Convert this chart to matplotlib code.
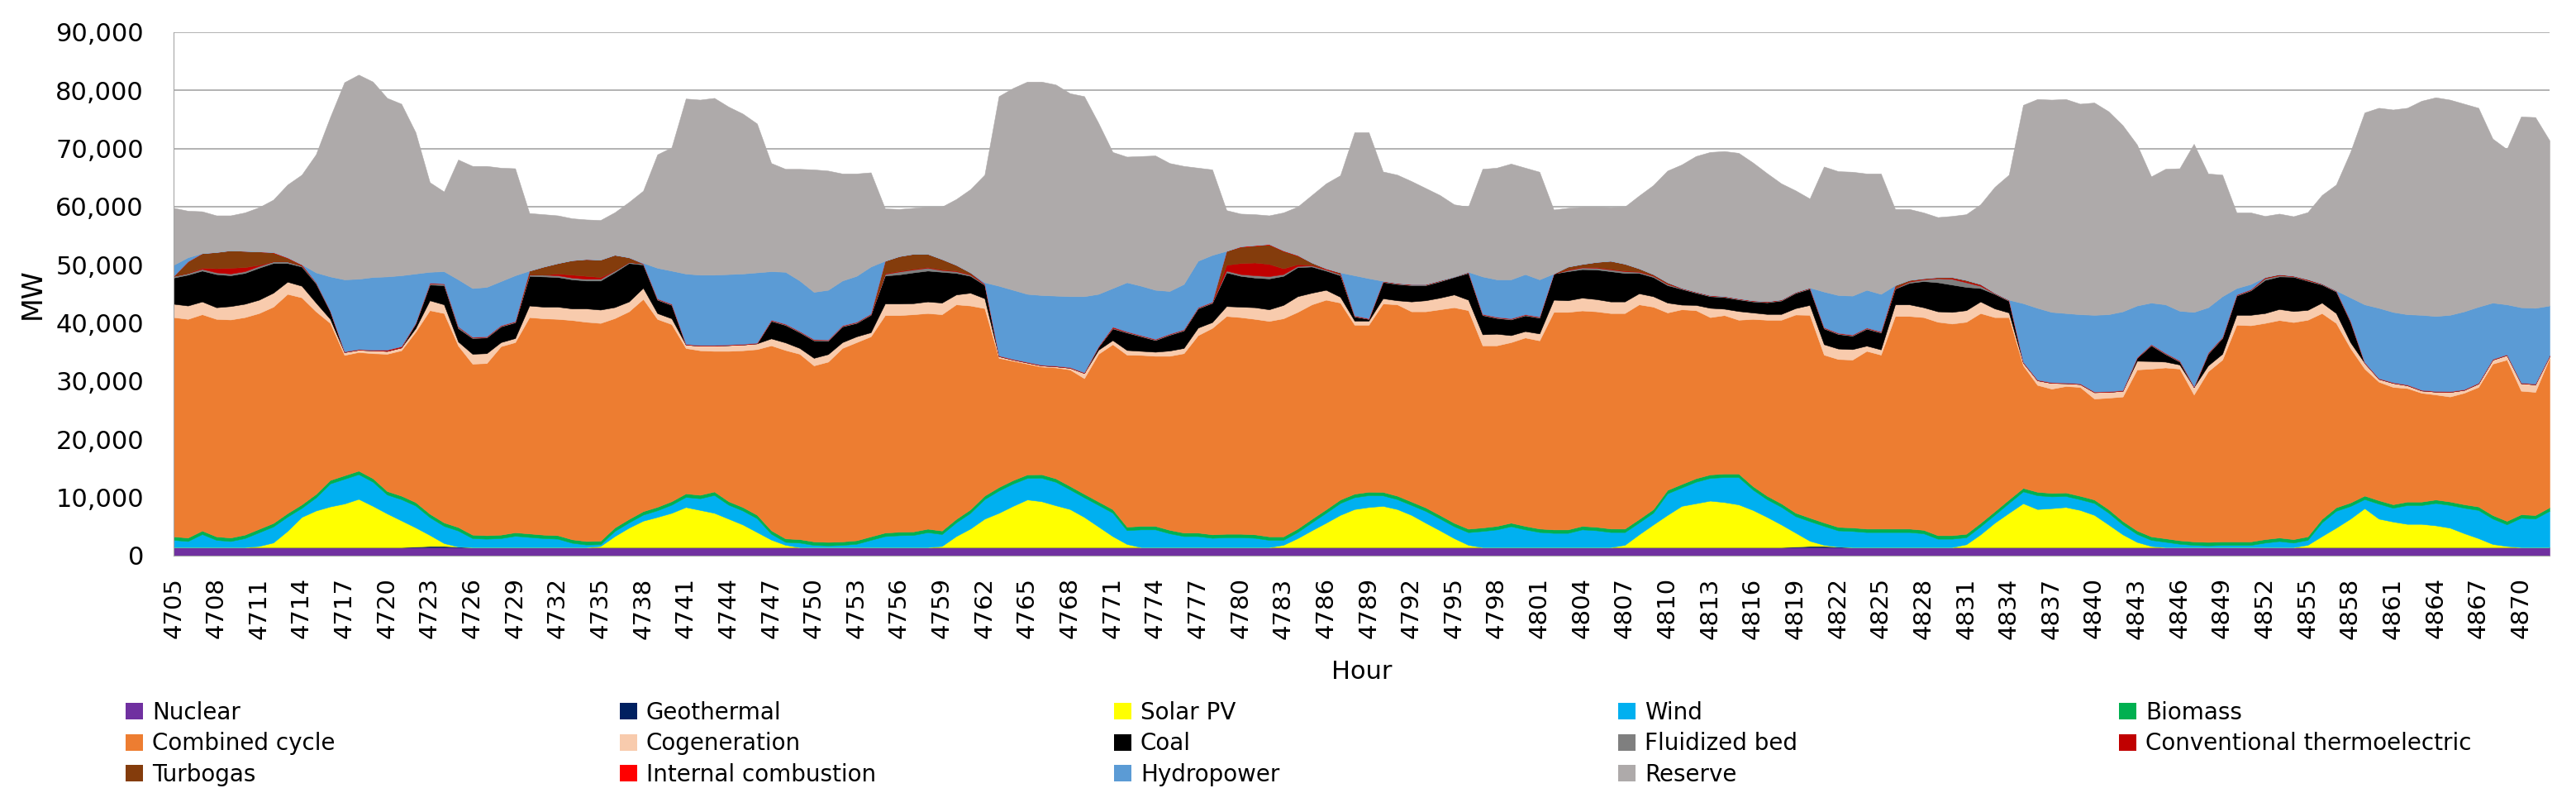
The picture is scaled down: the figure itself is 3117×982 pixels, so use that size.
import numpy as np
import matplotlib
matplotlib.use("Agg")
import matplotlib.pyplot as plt
from matplotlib.patches import Patch
from matplotlib.ticker import FuncFormatter

# hours 4705 .. 4872, one week, each line below = 24 hours
hours = list(range(4705, 4873))

nuclear = [1450, 1450, 1450, 1450, 1450, 1450, 1450, 1450, 1450, 1450, 1450, 1450, 1450, 1450, 1450, 1450, 1450, 1450, 1450, 1450, 1450, 1450, 1450, 1450,
           1450, 1450, 1450, 1450, 1450, 1450, 1450, 1450, 1450, 1450, 1450, 1450, 1450, 1450, 1450, 1450, 1450, 1450, 1450, 1450, 1450, 1450, 1450, 1450,
           1450, 1450, 1450, 1450, 1450, 1450, 1450, 1450, 1450, 1450, 1450, 1450, 1450, 1450, 1450, 1450, 1450, 1450, 1450, 1450, 1450, 1450, 1450, 1450,
           1450, 1450, 1450, 1450, 1450, 1450, 1450, 1450, 1450, 1450, 1450, 1450, 1450, 1450, 1450, 1450, 1450, 1450, 1450, 1450, 1450, 1450, 1450, 1450,
           1450, 1450, 1450, 1450, 1450, 1450, 1450, 1450, 1450, 1450, 1450, 1450, 1450, 1450, 1450, 1450, 1450, 1450, 1450, 1450, 1450, 1450, 1450, 1450,
           1450, 1450, 1450, 1450, 1450, 1450, 1450, 1450, 1450, 1450, 1450, 1450, 1450, 1450, 1450, 1450, 1450, 1450, 1450, 1450, 1450, 1450, 1450, 1450,
           1450, 1450, 1450, 1450, 1450, 1450, 1450, 1450, 1450, 1450, 1450, 1450, 1450, 1450, 1450, 1450, 1450, 1450, 1450, 1450, 1450, 1450, 1450, 1450]

geothermal = [0, 0, 0, 0, 0, 0, 0, 0, 0, 0, 0, 0, 0, 0, 0, 0, 0, 100, 200, 200, 100, 0, 0, 0,
              0, 0, 0, 0, 0, 0, 0, 0, 0, 0, 0, 0, 0, 0, 0, 0, 0, 0, 0, 0, 0, 0, 0, 0,
              0, 0, 0, 0, 0, 0, 0, 0, 0, 0, 0, 0, 0, 0, 0, 0, 0, 0, 0, 0, 0, 0, 0, 0,
              0, 0, 0, 0, 0, 0, 0, 0, 0, 0, 0, 0, 0, 0, 0, 0, 0, 0, 0, 0, 0, 0, 0, 0,
              0, 0, 0, 0, 0, 0, 0, 0, 0, 0, 0, 0, 0, 0, 0, 0, 0, 0, 100, 200, 200, 100, 0, 0,
              0, 0, 0, 0, 0, 0, 0, 0, 0, 0, 0, 0, 0, 0, 0, 0, 0, 0, 0, 0, 0, 0, 0, 0,
              0, 0, 0, 0, 0, 0, 0, 0, 0, 0, 0, 0, 0, 0, 0, 0, 0, 0, 0, 0, 0, 0, 0, 0]

solar = [0, 0, 0, 0, 0, 0, 200, 800, 2800, 5200, 6300, 7000, 7500, 8300, 7100, 5800, 4600, 3300, 1900, 500, 0, 0, 0, 0,
         0, 0, 0, 0, 0, 0, 200, 1900, 3350, 4550, 5200, 5900, 6900, 6400, 5900, 4900, 3900, 2600, 1300, 400, 0, 0, 0, 0,
         0, 0, 0, 0, 0, 0, 200, 1900, 3200, 4900, 5900, 7100, 8200, 7900, 7200, 6550, 5200, 3550, 1900, 550, 0, 0, 0, 0,
         0, 0, 0, 0, 0, 0, 400, 1550, 2900, 4200, 5550, 6550, 6900, 7100, 6550, 5550, 4200, 2900, 1550, 400, 0, 0, 0, 0,
         0, 0, 0, 0, 0, 0, 400, 2200, 3900, 5550, 7100, 7550, 8000, 7750, 7350, 6400, 5200, 3900, 2400, 900, 200, 0, 0, 0,
         0, 0, 0, 0, 0, 0, 500, 2200, 4200, 5900, 7550, 6550, 6700, 6900, 6400, 5550, 3900, 2200, 900, 200, 0, 0, 0, 0,
         0, 0, 0, 0, 0, 0, 400, 1900, 3350, 4900, 6700, 4900, 4400, 4000, 4000, 3750, 3350, 2400, 1550, 550, 200, 0, 0, 0]

wind = [1250, 1050, 2250, 1250, 1050, 1550, 2350, 2750, 2450, 1550, 2250, 3950, 4250, 4250, 4150, 3250, 3650, 3750, 3050, 2950, 2750, 1550, 1450, 1550,
        1950, 1750, 1550, 1450, 750, 450, 300, 880, 900, 1040, 1140, 1400, 1740, 2000, 3070, 2400, 2400, 2370, 1000, 500, 780, 380, 300, 380,
        580, 1250, 1900, 2050, 2100, 2570, 2050, 2350, 2700, 3370, 3830, 3830, 3700, 4030, 4030, 3370, 3370, 3700, 4030, 2370, 3050, 3050, 2380, 1900,
        1900, 1600, 1700, 1700, 1600, 1250, 850, 1040, 1370, 1700, 2040, 2040, 2030, 1800, 1700, 1700, 2030, 2030, 2040, 2170, 2780, 3050, 3600, 3050,
        2600, 2450, 2450, 3050, 2900, 2600, 2190, 2030, 2030, 3700, 3160, 3700, 3900, 4300, 4700, 3500, 3030, 3030, 2830, 3370, 3250, 2780, 2780, 2590,
        2590, 2590, 2590, 2380, 1450, 1450, 1200, 1370, 1370, 1700, 2040, 2370, 2030, 1900, 1830, 2040, 2030, 1700, 1370, 1050, 920, 580, 380, 300,
        380, 380, 380, 780, 1050, 780, 850, 2360, 2900, 2170, 1560, 2570, 2370, 3230, 3230, 3840, 3900, 4370, 4840, 4370, 3720, 5050, 4920, 6250]

biomass = [600, 600, 600, 600, 600, 600, 600, 600, 600, 600, 600, 600, 600, 600, 600, 600, 600, 600, 600, 600, 600, 600, 600, 600,
           600, 600, 600, 600, 600, 600, 600, 600, 600, 600, 600, 600, 600, 600, 600, 600, 600, 600, 600, 600, 600, 600, 600, 600,
           600, 600, 600, 600, 600, 600, 600, 600, 600, 600, 600, 600, 600, 600, 600, 600, 600, 600, 600, 600, 600, 600, 600, 600,
           600, 600, 600, 600, 600, 600, 600, 600, 600, 600, 600, 600, 600, 600, 600, 600, 600, 600, 600, 600, 600, 600, 600, 600,
           600, 600, 600, 600, 600, 600, 600, 600, 600, 600, 600, 600, 600, 600, 600, 600, 600, 600, 600, 600, 600, 600, 600, 600,
           600, 600, 600, 600, 600, 600, 600, 600, 600, 600, 600, 600, 600, 600, 600, 600, 600, 600, 600, 600, 600, 600, 600, 600,
           600, 600, 600, 600, 600, 600, 600, 600, 600, 600, 600, 600, 600, 600, 600, 600, 600, 600, 600, 600, 600, 600, 600, 600]

combined_cycle = [37700, 37600, 37200, 37400, 37500, 37400, 37100, 37200, 37700, 35600, 31400, 27000, 20700, 20400, 21500, 23600, 25000, 29300, 35000, 36000, 31200, 29400, 29600, 32400,
                  32700, 37200, 37200, 37200, 37700, 37700, 37450, 36000, 35700, 36500, 32300, 30450, 25000, 24850, 24180, 25850, 26950, 28480, 31800, 32400, 31870, 30270, 31000, 33270,
                  34070, 34400, 37400, 37250, 37350, 37080, 37200, 36900, 35050, 32230, 22220, 20520, 19050, 18520, 19070, 20030, 19880, 25400, 28370, 29580, 29400, 29250, 29920, 30850,
                  33950, 35500, 37450, 37250, 37050, 37050, 37500, 37260, 36880, 36050, 33860, 29060, 28720, 32400, 32900, 32700, 33720, 35370, 37060, 37580, 31320, 31050, 31050, 32400,
                  32350, 37400, 37400, 37050, 37050, 37050, 37060, 36920, 34820, 30500, 30040, 28900, 27050, 27250, 26450, 28750, 30270, 31570, 34070, 34880, 28850, 28870, 28870, 30560,
                  29910, 36560, 36560, 36570, 36700, 36400, 36450, 36080, 33380, 31350, 21060, 18380, 17920, 18300, 18720, 17360, 19170, 21400, 27680, 28850, 29380, 29520, 25270, 29350,
                  31270, 37270, 37170, 37170, 37400, 37320, 37250, 35390, 31700, 26580, 21840, 20380, 20180, 19520, 18720, 18060, 18050, 19180, 20560, 26030, 27730, 21250, 21180, 25700]

cogeneration = [2300, 2300, 2200, 2000, 2300, 2300, 2300, 2400, 2100, 2000, 1500, 700, 500, 400, 500, 500, 500, 600, 1700, 1500, 700, 1700, 1700, 700,
                700, 2000, 2000, 2100, 2000, 2300, 2300, 1900, 1700, 1900, 1000, 1000, 600, 800, 900, 1000, 1000, 1000, 1200, 1300, 1000, 1300, 1300, 1000,
                1000, 700, 2000, 2000, 1900, 2000, 2000, 1700, 2200, 1700, 300, 200, 200, 200, 200, 300, 900, 700, 700, 800, 700, 700, 900, 900,
                1300, 1000, 1700, 1800, 2000, 2000, 2300, 2700, 2000, 1700, 1000, 700, 700, 900, 700, 1700, 1900, 2000, 2200, 1800, 1900, 2000, 1200, 1100,
                1200, 2100, 2000, 2200, 2100, 2000, 2000, 1900, 1800, 1700, 800, 900, 1600, 1100, 1500, 1100, 1000, 1000, 1100, 1700, 1800, 1800, 1800, 900,
                900, 2000, 2000, 1700, 1800, 2000, 2000, 2000, 1500, 800, 500, 800, 1000, 500, 500, 1100, 1000, 1000, 1500, 1300, 1000, 700, 1300, 1000,
                1000, 1700, 1800, 1700, 1900, 1900, 1700, 1800, 1700, 1000, 1000, 500, 700, 500, 400, 500, 800, 500, 600, 700, 800, 1300, 1300, 300]

coal = [4500, 5300, 5300, 5700, 5300, 5300, 5500, 5100, 3200, 3300, 3300, 1300, 0, 0, 0, 0, 0, 800, 2700, 3300, 2300, 2700, 2700, 2700,
        2700, 5100, 5200, 5100, 5000, 4800, 5000, 6000, 6600, 4000, 2300, 2300, 0, 0, 0, 0, 0, 0, 3000, 3000, 2700, 3000, 2300, 2700,
        2300, 3000, 4800, 5000, 5300, 5300, 5300, 3700, 2900, 2300, 0, 0, 0, 0, 0, 0, 0, 500, 2000, 3000, 2500, 2000, 2700, 3000,
        3300, 3300, 5800, 5300, 5100, 5300, 5000, 5000, 4500, 3300, 3700, 700, 300, 2800, 2800, 2800, 2600, 2800, 3000, 4600, 3300, 2700, 2700, 2700,
        2700, 4500, 5000, 4900, 5100, 5200, 4900, 3500, 3300, 3000, 2700, 2100, 2000, 2000, 2000, 1900, 2000, 2300, 2600, 2800, 2700, 2500, 2300, 2900,
        2900, 2700, 3700, 4500, 5000, 4700, 4000, 2300, 2500, 2000, 0, 0, 0, 0, 0, 0, 0, 0, 500, 2700, 1300, 500, 0, 2000,
        2700, 3300, 4200, 5700, 5600, 5900, 5000, 3100, 3700, 3500, 0, 0, 0, 0, 0, 0, 0, 0, 0, 0, 0, 0, 0, 0]

fluidized_bed = [300, 300, 300, 300, 300, 300, 300, 300, 300, 200, 200, 100, 0, 0, 0, 0, 0, 100, 200, 200, 200, 100, 100, 100,
                 100, 300, 300, 300, 300, 300, 300, 300, 200, 200, 100, 100, 0, 0, 0, 0, 0, 0, 100, 100, 100, 100, 100, 100,
                 100, 100, 300, 500, 500, 500, 300, 300, 200, 100, 0, 0, 0, 0, 0, 0, 0, 0, 100, 100, 100, 100, 100, 100,
                 100, 100, 300, 300, 400, 400, 300, 200, 200, 200, 200, 100, 0, 100, 100, 100, 100, 100, 100, 100, 100, 100, 100, 100,
                 100, 0, 200, 300, 300, 300, 300, 200, 200, 200, 100, 100, 100, 100, 100, 100, 100, 100, 100, 100, 100, 100, 100, 100,
                 100, 100, 200, 300, 700, 1000, 800, 400, 100, 100, 0, 0, 0, 0, 0, 0, 0, 0, 0, 100, 100, 100, 0, 100,
                 100, 100, 100, 300, 200, 100, 100, 100, 100, 100, 0, 0, 0, 0, 0, 0, 0, 0, 0, 0, 0, 0, 0, 0]

conv_thermo = [0, 0, 200, 700, 1000, 700, 200, 0, 0, 0, 0, 0, 100, 100, 100, 200, 200, 0, 100, 100, 100, 100, 100, 100,
               100, 0, 0, 300, 500, 500, 300, 0, 0, 0, 100, 100, 100, 100, 100, 100, 100, 100, 100, 100, 100, 100, 100, 100,
               100, 100, 100, 100, 100, 100, 100, 100, 100, 100, 100, 100, 100, 100, 100, 100, 100, 100, 200, 100, 100, 100, 100, 100,
               100, 100, 1000, 1900, 2200, 2100, 1000, 300, 100, 100, 100, 100, 100, 100, 100, 100, 100, 100, 0, 100, 100, 100, 100, 100,
               100, 0, 100, 100, 100, 100, 100, 100, 100, 100, 100, 100, 100, 100, 100, 100, 100, 100, 100, 100, 100, 100, 100, 100,
               100, 100, 100, 100, 100, 200, 200, 200, 100, 100, 100, 100, 100, 100, 100, 100, 100, 100, 100, 100, 100, 100, 100, 100,
               100, 100, 100, 100, 100, 100, 100, 100, 100, 100, 100, 100, 100, 100, 100, 100, 100, 100, 100, 100, 100, 100, 100, 100]

turbogas = [0, 2000, 2500, 2800, 3000, 2800, 2300, 1500, 600, 100, 0, 0, 0, 0, 0, 0, 0, 0, 0, 0, 0, 0, 0, 0,
            0, 600, 1400, 1800, 2500, 2900, 3000, 2700, 800, 0, 0, 0, 0, 0, 0, 0, 0, 0, 0, 0, 0, 0, 0, 0,
            0, 0, 2150, 2550, 2600, 2300, 1800, 1000, 300, 0, 0, 0, 0, 0, 0, 0, 0, 0, 0, 0, 0, 0, 0, 0,
            0, 0, 2400, 2800, 2900, 3350, 3000, 1500, 400, 0, 200, 0, 0, 0, 0, 0, 0, 0, 0, 0, 0, 0, 0, 0,
            0, 0, 500, 500, 900, 1400, 1200, 500, 200, 200, 0, 0, 0, 0, 0, 0, 0, 0, 0, 0, 0, 0, 0, 0,
            0, 400, 200, 100, 100, 100, 200, 100, 0, 0, 0, 0, 0, 0, 0, 0, 0, 0, 0, 0, 0, 0, 0, 0,
            0, 0, 0, 100, 100, 0, 100, 0, 0, 0, 0, 0, 0, 0, 0, 0, 0, 0, 0, 0, 0, 0, 0, 0]

internal_comb = [0, 0, 0, 0, 0, 0, 0, 100, 100, 100, 0, 0, 0, 0, 0, 0, 0, 0, 0, 0, 0, 0, 0, 0,
                 0, 0, 0, 0, 0, 0, 0, 0, 0, 0, 0, 0, 0, 0, 0, 0, 0, 0, 0, 0, 0, 0, 0, 0,
                 0, 0, 0, 0, 0, 0, 0, 0, 0, 0, 0, 0, 0, 0, 0, 0, 0, 0, 0, 0, 0, 0, 0, 0,
                 0, 0, 0, 100, 100, 100, 100, 100, 0, 100, 0, 0, 0, 0, 0, 0, 0, 0, 0, 0, 0, 0, 0, 0,
                 0, 0, 0, 0, 0, 0, 0, 0, 0, 0, 0, 0, 0, 0, 0, 0, 0, 0, 0, 0, 0, 0, 0, 0,
                 0, 0, 0, 0, 0, 0, 0, 0, 0, 0, 0, 0, 0, 0, 0, 0, 0, 0, 0, 0, 0, 0, 0, 0,
                 0, 0, 0, 0, 0, 0, 0, 0, 0, 0, 0, 0, 0, 0, 0, 0, 0, 0, 0, 0, 0, 0, 0, 0]

hydro = [1900, 700, 0, 0, 0, 0, 0, 0, 0, 0, 1700, 5900, 12400, 12100, 12500, 12600, 12200, 8500, 1900, 2100, 8100, 8400, 8500, 7600,
         7900, 0, 0, 0, 0, 0, 0, 0, 0, 100, 5300, 5700, 12100, 12100, 12100, 12100, 12100, 12100, 8350, 8950, 8700, 8150, 8550, 7700,
         7900, 8100, 0, 0, 0, 0, 0, 0, 0, 250, 12000, 11900, 11700, 12000, 12050, 12200, 13100, 9000, 6650, 8450, 8500, 8450, 7350, 7800,
         8000, 8050, 0, 0, 0, 0, 0, 0, 0, 0, 0, 6900, 6900, 0, 0, 0, 0, 0, 0, 0, 6450, 6450, 6700, 6900,
         6400, 0, 0, 0, 0, 0, 0, 0, 0, 0, 0, 0, 0, 0, 0, 0, 0, 0, 0, 0, 6150, 6500, 6700, 6500,
         6450, 0, 0, 0, 0, 0, 0, 0, 0, 0, 10100, 12350, 12100, 11950, 11900, 13200, 13250, 13550, 8900, 7150, 8350, 8550, 12800, 7800,
         7000, 1100, 900, 0, 0, 0, 0, 0, 0, 4000, 9950, 12100, 12100, 12100, 12900, 12900, 13150, 13400, 13100, 9700, 8600, 12950, 13050, 8600]

reserve = [9800, 8000, 7200, 6300, 6000, 6600, 7600, 9000, 12500, 15400, 20300, 27400, 33900, 35100, 33600, 30700, 29500, 24300, 15400, 13700, 20600, 21000, 20800, 19500,
           18400, 9900, 9000, 8200, 7200, 6800, 6800, 7300, 9500, 12400, 19500, 21200, 30100, 30100, 30400, 28800, 27500, 25600, 18600, 17700, 19200, 21050, 20500, 18400,
           17600, 16200, 9000, 8100, 7900, 8100, 9000, 11300, 14300, 18500, 32600, 34700, 36500, 36700, 36300, 34900, 34400, 29400, 23400, 21600, 22300, 23100, 22000, 20300,
           16000, 14700, 7000, 5600, 5300, 4900, 6500, 8300, 11600, 14600, 16700, 24600, 25100, 18800, 18600, 17700, 16500, 14650, 12400, 11200, 18500, 19200, 19900, 18300,
           18500, 11000, 10100, 9800, 9500, 9200, 9800, 12500, 15300, 19200, 21200, 23300, 24600, 24900, 25000, 23700, 22000, 19950, 17450, 15300, 21500, 21300, 21300, 20000,
           20700, 13100, 12200, 11300, 10300, 10500, 11300, 13700, 18200, 21500, 34100, 35900, 36500, 36800, 36200, 36500, 34900, 32000, 27700, 21700, 23300, 24500, 28900, 23000,
           20900, 13000, 12300, 10500, 10400, 10200, 11500, 15200, 18200, 25000, 33000, 34400, 34800, 35500, 36800, 37600, 37000, 35700, 34200, 28200, 26700, 32800, 32800, 28400]

labels = ["Nuclear", "Geothermal", "Solar PV", "Wind", "Biomass",
          "Combined cycle", "Cogeneration", "Coal", "Fluidized bed", "Conventional thermoelectric",
          "Turbogas", "Internal combustion", "Hydropower", "Reserve"]

colors = ["#7030A0", "#002060", "#FFFF00", "#00B0F0", "#00B050",
          "#ED7D31", "#F8CBAD", "#000000", "#7F7F7F", "#C00000",
          "#843C0C", "#FF0000", "#5B9BD5", "#AEAAAA"]

series = [nuclear, geothermal, solar, wind, biomass,
          combined_cycle, cogeneration, coal, fluidized_bed, conv_thermo,
          turbogas, internal_comb, hydro, reserve]

for s in series:
    assert len(s) == len(hours), len(s)

fig = plt.figure(figsize=(31.17, 9.82), dpi=100)
ax = fig.add_axes([0.0674, 0.3157, 0.9223, 0.6446])

# stacked areas, bottom to top in legend order
ax.stackplot(hours, *series, colors=colors, labels=labels,
             edgecolor="face", linewidth=0.4)

ax.set_xlim(4705, 4872)
ax.set_ylim(0, 90000)
ax.set_yticks(np.arange(0, 90001, 10000))
ax.yaxis.set_major_formatter(FuncFormatter(lambda v, p: "{:,.0f}".format(v)))
ax.set_xticks(hours[::3])
ax.set_xticklabels([str(h) for h in hours[::3]], rotation=90)

ax.tick_params(axis="y", length=0, labelsize=22, pad=26)
ax.tick_params(axis="x", length=0, labelsize=21, pad=19)

ax.set_axisbelow(True)
ax.grid(axis="y", color="#A6A6A6", linewidth=1.2)
for side in ["top", "right"]:
    ax.spines[side].set_visible(False)
ax.spines["left"].set_color("#A6A6A6")
ax.spines["bottom"].set_color("#A6A6A6")

ax.set_ylabel("MW", fontsize=24, labelpad=8)
ax.set_xlabel("Hour", fontsize=22, labelpad=18)

# legend: 5 columns at equal spacing, row-wise like the original
handles = [Patch(facecolor=c, edgecolor="none") for c in colors]
col_x = [152, 750, 1348, 1958, 2564]
for k in range(5):
    idx = [k, k + 5, k + 10]
    idx = [i for i in idx if i < len(labels)]
    fig.legend([handles[i] for i in idx], [labels[i] for i in idx],
               loc="upper left", bbox_to_anchor=(col_x[k] / 3117.0, 1 - 848 / 982.0),
               frameon=False, fontsize=20, handlelength=0.75, handleheight=0.75,
               handletextpad=0.4, labelspacing=0.34, borderpad=0, borderaxespad=0)

fig.savefig("out.png", dpi=100)
